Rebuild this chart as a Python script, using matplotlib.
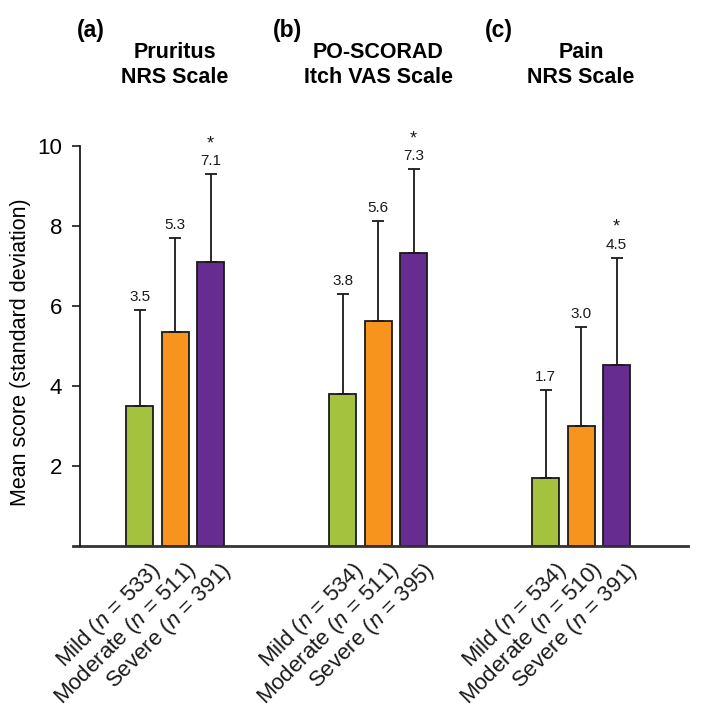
import matplotlib
matplotlib.use("Agg")
import matplotlib.pyplot as plt
import matplotlib.transforms as mtransforms
from matplotlib.lines import Line2D
import numpy as np

plt.rcParams['font.family'] = ['Liberation Sans', 'DejaVu Sans']
plt.rcParams['mathtext.fontset'] = 'custom'
plt.rcParams['mathtext.rm'] = 'Liberation Sans'
plt.rcParams['mathtext.it'] = 'Liberation Sans:italic'

# ---- data ----
panel_letters = ['(a)', '(b)', '(c)']
panel_titles = ['Pruritus\nNRS Scale', 'PO-SCORAD\nItch VAS Scale', 'Pain\nNRS Scale']
severity = ['Mild', 'Moderate', 'Severe']
n_counts = [[533, 511, 391], [534, 511, 395], [534, 510, 391]]
means = [[3.5, 5.35, 7.1], [3.8, 5.62, 7.32], [1.7, 3.0, 4.53]]
mean_labels = [['3.5', '5.3', '7.1'], ['3.8', '5.6', '7.3'], ['1.7', '3.0', '4.5']]
sds = [[2.4, 2.35, 2.2], [2.5, 2.5, 2.1], [2.2, 2.48, 2.68]]
significant = [[False, False, True], [False, False, True], [False, False, True]]
colors = ['#A5C23E', '#F7941E', '#662C8F']

W, H = 709, 715
fig = plt.figure(figsize=(W / 100, H / 100), dpi=100)
ax = fig.add_axes([80 / W, (H - 546) / H, (688 - 80) / W, 400 / H])

group_gap = 5.72
bar_w = 0.76
for g in range(3):
    for i in range(3):
        x = g * group_gap + (i - 1)
        m = means[g][i]
        s = sds[g][i]
        ax.bar(x, m, width=bar_w, color=colors[i], edgecolor='#1a1a1a',
               linewidth=1.3, zorder=2)
        ax.errorbar(x, m, yerr=[[0], [s]], fmt='none', ecolor='#1a1a1a',
                    elinewidth=1.3, capsize=4, capthick=1.3, zorder=3)
        ax.annotate(mean_labels[g][i], xy=(x, m + s), xytext=(0, 6.5),
                    textcoords='offset points', ha='center', va='baseline',
                    fontsize=11, color='#1a1a1a')
        if significant[g][i]:
            ax.annotate('*', xy=(x, m + s), xytext=(0, 18.5),
                        textcoords='offset points', ha='center', va='baseline',
                        fontsize=13, color='#1a1a1a')
        lab = f"{severity[i]} ($\\it{{n}}$ = {n_counts[g][i]})"
        off = mtransforms.ScaledTranslation(6.5 / 72, -8.5 / 72, fig.dpi_scale_trans)
        ax.text(x, 0, lab, transform=ax.transData + off, rotation=45,
                rotation_mode='anchor', ha='right', va='top', fontsize=16,
                color='#1a1a1a')
    # titles
    gx = g * group_gap
    tr = mtransforms.blended_transform_factory(ax.transData, fig.transFigure)
    fig.text(gx, 1 - 65 / H, panel_titles[g], transform=tr, ha='center',
             va='center', fontsize=15.5, fontweight='bold', linespacing=1.2)

for letter, lx in zip(panel_letters, [77, 273, 485]):
    fig.text(lx / W, 1 - 31 / H, letter, ha='left', va='center', fontsize=16.5,
             fontweight='bold')

ax.set_xlim(-2.68, 14.45)
ax.set_ylim(0, 10)
ax.set_yticks([2, 4, 6, 8, 10])
ax.set_yticklabels(['2', '4', '6', '8', '10'])
ax.set_xticks([])
ax.tick_params(axis='y', length=6, width=1.2, labelsize=16, pad=7, color='#1a1a1a')
ax.set_ylabel('Mean score (standard deviation)', fontsize=15.5)
ax.yaxis.set_label_coords(-0.08, 0.485)
for sp in ['top', 'right']:
    ax.spines[sp].set_visible(False)
ax.spines['left'].set_linewidth(1.3)
ax.spines['left'].set_color('#1a1a1a')
ax.spines['bottom'].set_visible(False)
ax.add_line(Line2D([-7 / 608, 1.0], [0, 0], transform=ax.transAxes,
                   color='#333333', linewidth=2.0, clip_on=False))

fig.savefig('out.png', dpi=100)
